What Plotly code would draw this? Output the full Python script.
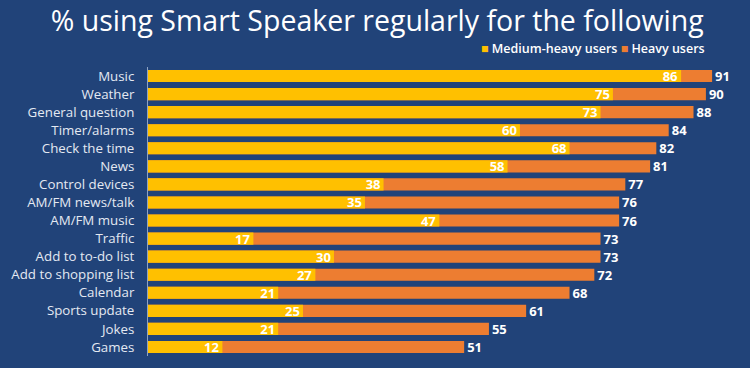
import plotly.graph_objects as go

categories = ["Music", "Weather", "General question", "Timer/alarms", "Check the time", "News",
              "Control devices", "AM/FM news/talk", "AM/FM music", "Traffic", "Add to to-do list",
              "Add to shopping list", "Calendar", "Sports update", "Jokes", "Games"]
medium_heavy = [86, 75, 73, 60, 68, 58, 38, 35, 47, 17, 30, 27, 21, 25, 21, 12]
heavy = [91, 90, 88, 84, 82, 81, 77, 76, 76, 73, 73, 72, 68, 61, 55, 51]

YELLOW = "#FFC000"
ORANGE = "#ED7D31"
BG = "#214379"
FONT = "Open Sans"

fig = go.Figure()
fig.add_trace(go.Bar(
    y=categories, x=heavy, orientation="h", name="Heavy users",
    marker=dict(color=ORANGE, line=dict(width=0)),
    text=[str(v) for v in heavy], textposition="outside", textangle=0,
    textfont=dict(color="white", size=13, family=FONT, weight="bold"),
    cliponaxis=False, showlegend=False,
))
fig.add_trace(go.Bar(
    y=categories, x=medium_heavy, orientation="h", name="Medium-heavy users",
    marker=dict(color=YELLOW, line=dict(width=0)),
    text=[str(v) for v in medium_heavy], textposition="inside", insidetextanchor="end",
    textangle=0,
    textfont=dict(color="white", size=13, family=FONT, weight="bold"),
    showlegend=False,
))

plot_l, plot_r, plot_t, plot_b = 148, 10, 67, 12
fig.update_layout(
    width=750, height=368,
    barmode="overlay", bargap=0.33,
    paper_bgcolor=BG, plot_bgcolor=BG,
    margin=dict(l=plot_l, r=plot_r, t=plot_t, b=plot_b, autoexpand=False),
    uniformtext=dict(minsize=13, mode="show"),
    title=dict(text="% using Smart Speaker regularly for the following",
               x=0.503, xanchor="center", y=0.942, yanchor="middle",
               font=dict(family=FONT, size=28.5, color="white", weight=500)),
    xaxis=dict(range=[0, 95.5], showgrid=False, zeroline=False, showticklabels=False,
               fixedrange=True),
    yaxis=dict(autorange="reversed", showgrid=False, showline=True, linecolor="#8fa3c4",
               linewidth=1, ticks="", ticklabelstandoff=10, automargin=False,
               tickfont=dict(family=FONT, size=13.3, color="#e4e9f2")),
    showlegend=False,
    annotations=[dict(
        x=(707 - plot_l) / (750 - plot_l - plot_r),
        y=1 + (plot_t - 48) / (368 - plot_t - plot_b),
        xref="paper", yref="paper", xanchor="right", yanchor="middle",
        text=f"<span style='color:{YELLOW}'>■</span> Medium-heavy users <span style='color:{ORANGE}'>■</span> Heavy users",
        showarrow=False, font=dict(family=FONT, size=12.5, color="white", weight=600),
    )],
)

fig.write_html("out.html", config={"displayModeBar": False},
               post_script="document.body.style.margin='0';")
